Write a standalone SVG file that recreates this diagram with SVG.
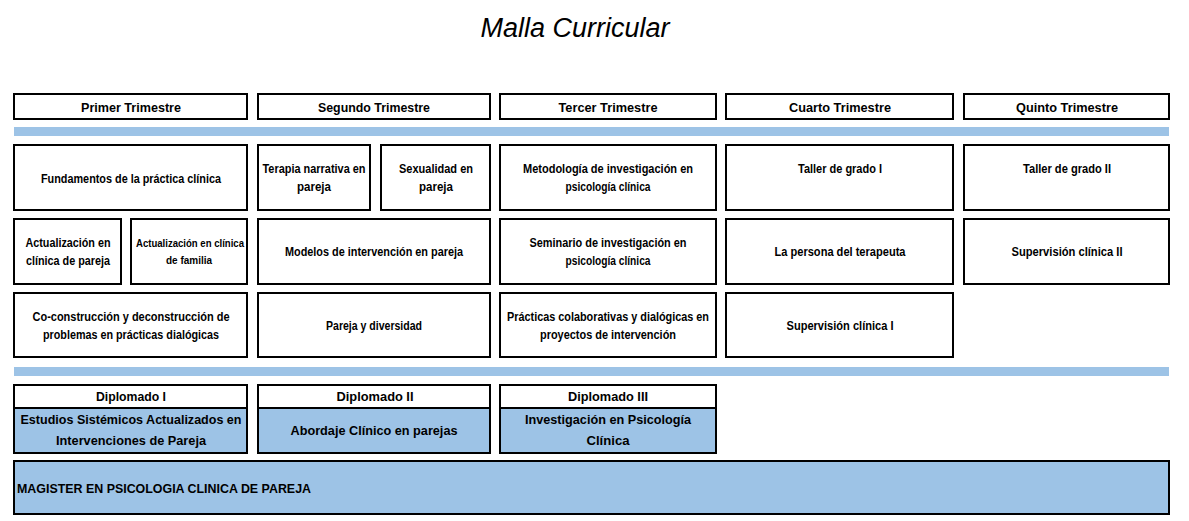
<svg xmlns="http://www.w3.org/2000/svg" width="1189" height="521" viewBox="0 0 1189 521">
<style>
.b{fill:#fff;stroke:#000;stroke-width:2}
.f{fill:#9DC3E6;stroke:#000;stroke-width:2}
.bar{fill:#9DC3E6}
text{font-family:"Liberation Sans",Arial,sans-serif;font-weight:bold;fill:#000;text-anchor:middle}
.h{font-size:13px}
.t{font-size:12px}
.s{font-size:10px}
.title{font-size:27px;font-style:italic;font-weight:normal}
</style>
<rect width="1189" height="521" fill="#fff"/>
<text class="title" x="575" y="37">Malla Curricular</text>

<g id="headers">
<g id="h1"><rect class="b" x="14" y="94" width="233" height="25"/><text class="h" x="131" y="112" textLength="100" lengthAdjust="spacingAndGlyphs">Primer Trimestre</text></g>
<g id="h2"><rect class="b" x="258" y="94" width="232" height="25"/><text class="h" x="374" y="112" textLength="112" lengthAdjust="spacingAndGlyphs">Segundo Trimestre</text></g>
<g id="h3"><rect class="b" x="500" y="94" width="216" height="25"/><text class="h" x="608" y="112" textLength="99" lengthAdjust="spacingAndGlyphs">Tercer Trimestre</text></g>
<g id="h4"><rect class="b" x="726" y="94" width="227" height="25"/><text class="h" x="840" y="112" textLength="102" lengthAdjust="spacingAndGlyphs">Cuarto Trimestre</text></g>
<g id="h5"><rect class="b" x="964" y="94" width="205" height="25"/><text class="h" x="1067" y="112" textLength="102" lengthAdjust="spacingAndGlyphs">Quinto Trimestre</text></g>
</g>

<rect class="bar" x="14" y="127" width="1155" height="9"/>

<g id="fundamentos"><rect class="b" x="14" y="145" width="233" height="65"/><text class="t" x="131" y="183" textLength="180" lengthAdjust="spacingAndGlyphs">Fundamentos de la práctica clínica</text></g>
<g id="terapia"><rect class="b" x="258" y="145" width="112" height="65"/><text class="t" x="314" y="173" textLength="103" lengthAdjust="spacingAndGlyphs">Terapia narrativa en</text><text class="t" x="314" y="191" textLength="34" lengthAdjust="spacingAndGlyphs">pareja</text></g>
<g id="sexualidad"><rect class="b" x="381" y="145" width="109" height="65"/><text class="t" x="436" y="173" textLength="74" lengthAdjust="spacingAndGlyphs">Sexualidad en</text><text class="t" x="436" y="191" textLength="34" lengthAdjust="spacingAndGlyphs">pareja</text></g>
<g id="metodologia"><rect class="b" x="500" y="145" width="216" height="65"/><text class="t" x="608" y="173" textLength="170" lengthAdjust="spacingAndGlyphs">Metodología de investigación en</text><text class="t" x="608" y="191" textLength="85" lengthAdjust="spacingAndGlyphs">psicología clínica</text></g>
<g id="taller1"><rect class="b" x="726" y="145" width="227" height="65"/><text class="t" x="840" y="173" textLength="84" lengthAdjust="spacingAndGlyphs">Taller de grado I</text></g>
<g id="taller2"><rect class="b" x="964" y="145" width="205" height="65"/><text class="t" x="1067" y="173" textLength="88" lengthAdjust="spacingAndGlyphs">Taller de grado II</text></g>

<g id="act-pareja"><rect class="b" x="14" y="219" width="107" height="65"/><text class="t" x="68" y="247" textLength="85" lengthAdjust="spacingAndGlyphs">Actualización en</text><text class="t" x="68" y="265" textLength="84" lengthAdjust="spacingAndGlyphs">clínica de pareja</text></g>
<g id="act-familia"><rect class="b" x="131" y="219" width="116" height="65"/><text class="s" x="190" y="247" textLength="108" lengthAdjust="spacingAndGlyphs">Actualización en clínica</text><text class="s" x="189" y="264" textLength="46" lengthAdjust="spacingAndGlyphs">de familia</text></g>
<g id="modelos"><rect class="b" x="258" y="219" width="232" height="65"/><text class="t" x="374" y="256" textLength="178" lengthAdjust="spacingAndGlyphs">Modelos de intervención en pareja</text></g>
<g id="seminario"><rect class="b" x="500" y="219" width="216" height="65"/><text class="t" x="608" y="247" textLength="157" lengthAdjust="spacingAndGlyphs">Seminario de investigación en</text><text class="t" x="608" y="265" textLength="85" lengthAdjust="spacingAndGlyphs">psicología clínica</text></g>
<g id="persona"><rect class="b" x="726" y="219" width="227" height="65"/><text class="t" x="840" y="256" textLength="131" lengthAdjust="spacingAndGlyphs">La persona del terapeuta</text></g>
<g id="supervision2"><rect class="b" x="964" y="219" width="205" height="65"/><text class="t" x="1067" y="256" textLength="111" lengthAdjust="spacingAndGlyphs">Supervisión clínica II</text></g>

<g id="coconstruccion"><rect class="b" x="14" y="293" width="233" height="64"/><text class="t" x="131" y="321" textLength="197" lengthAdjust="spacingAndGlyphs">Co-construcción y deconstrucción de</text><text class="t" x="131" y="339" textLength="176" lengthAdjust="spacingAndGlyphs">problemas en prácticas dialógicas</text></g>
<g id="diversidad"><rect class="b" x="258" y="293" width="232" height="64"/><text class="t" x="374" y="330" textLength="96" lengthAdjust="spacingAndGlyphs">Pareja y diversidad</text></g>
<g id="practicas"><rect class="b" x="500" y="293" width="216" height="64"/><text class="t" x="608" y="321" textLength="202" lengthAdjust="spacingAndGlyphs">Prácticas colaborativas y dialógicas en</text><text class="t" x="608" y="339" textLength="136" lengthAdjust="spacingAndGlyphs">proyectos de intervención</text></g>
<g id="supervision1"><rect class="b" x="726" y="293" width="227" height="64"/><text class="t" x="840" y="330" textLength="107" lengthAdjust="spacingAndGlyphs">Supervisión clínica I</text></g>

<rect class="bar" x="14" y="367" width="1155" height="9"/>

<g id="diplomado1"><rect class="b" x="14" y="385" width="233" height="23"/><text class="h" x="131" y="401" textLength="70" lengthAdjust="spacingAndGlyphs">Diplomado I</text><rect class="f" x="14" y="408" width="233" height="45"/><text class="h" x="131" y="424" textLength="221" lengthAdjust="spacingAndGlyphs">Estudios Sistémicos Actualizados en</text><text class="h" x="131" y="445" textLength="150" lengthAdjust="spacingAndGlyphs">Intervenciones de Pareja</text></g>
<g id="diplomado2"><rect class="b" x="258" y="385" width="232" height="23"/><text class="h" x="375" y="401" textLength="77" lengthAdjust="spacingAndGlyphs">Diplomado II</text><rect class="f" x="258" y="408" width="232" height="45"/><text class="h" x="374" y="435" textLength="167" lengthAdjust="spacingAndGlyphs">Abordaje Clínico en parejas</text></g>
<g id="diplomado3"><rect class="b" x="500" y="385" width="216" height="23"/><text class="h" x="608" y="401" textLength="80" lengthAdjust="spacingAndGlyphs">Diplomado III</text><rect class="f" x="500" y="408" width="216" height="45"/><text class="h" x="608" y="424" textLength="166" lengthAdjust="spacingAndGlyphs">Investigación en Psicología</text><text class="h" x="608" y="445" textLength="43" lengthAdjust="spacingAndGlyphs">Clínica</text></g>

<g id="magister"><rect class="f" x="14" y="461" width="1155" height="53"/><text class="h" x="17" y="493" style="text-anchor:start" textLength="294" lengthAdjust="spacingAndGlyphs">MAGISTER EN PSICOLOGIA CLINICA DE PAREJA</text></g>
<g id="connectors"></g>
</svg>
